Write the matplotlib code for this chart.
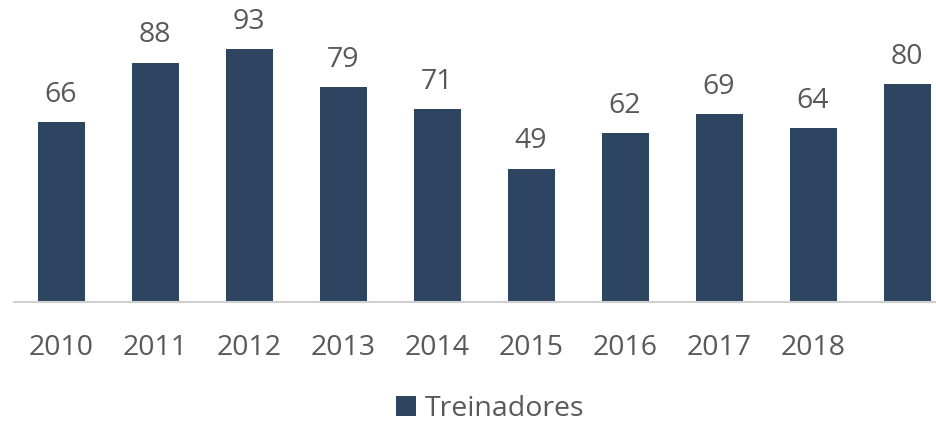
import matplotlib.pyplot as plt
import numpy as np

plt.rcParams['font.family'] = ['Open Sans', 'DejaVu Sans']

# data
years = ['2010', '2011', '2012', '2013', '2014', '2015', '2016', '2017', '2018', '']
treinadores = [66, 88, 93, 79, 71, 49, 62, 69, 64, 80]

bar_color = '#2d4560'
text_color = '#595959'

fig = plt.figure(figsize=(9.36, 4.22), dpi=100)
ax = fig.add_axes([14 / 936, 120 / 422, 940 / 936, 302 / 422])

x = np.arange(len(years))
bars = ax.bar(x, treinadores, width=0.5, color=bar_color, label='Treinadores', zorder=2)

# value labels above bars
for xi, v in zip(x, treinadores):
    ax.annotate(str(v), (xi, v), xytext=(0, 9.5), textcoords='offset points',
                ha='center', va='bottom', fontsize=20.5, color=text_color)

ax.set_xlim(-0.5, len(years) - 0.5)
ax.set_ylim(0, 111)
ax.set_xticks(x)
ax.set_xticklabels(years, fontsize=20.5, color=text_color)
ax.tick_params(axis='x', length=0, pad=23)
ax.set_yticks([])
for s in ['top', 'right', 'left']:
    ax.spines[s].set_visible(False)
ax.spines['bottom'].set_color('#d0d0d0')
ax.spines['bottom'].set_linewidth(1.5)
ax.patch.set_alpha(0)

leg = fig.legend(handles=[bars], labels=['Treinadores'], loc='center',
                 bbox_to_anchor=(490 / 936, 1 - 409 / 422), frameon=False,
                 fontsize=20.5, handlelength=0.7, handleheight=0.7, handletextpad=0.3)
for t in leg.get_texts():
    t.set_color(text_color)

fig.savefig('out.png', dpi=100)
